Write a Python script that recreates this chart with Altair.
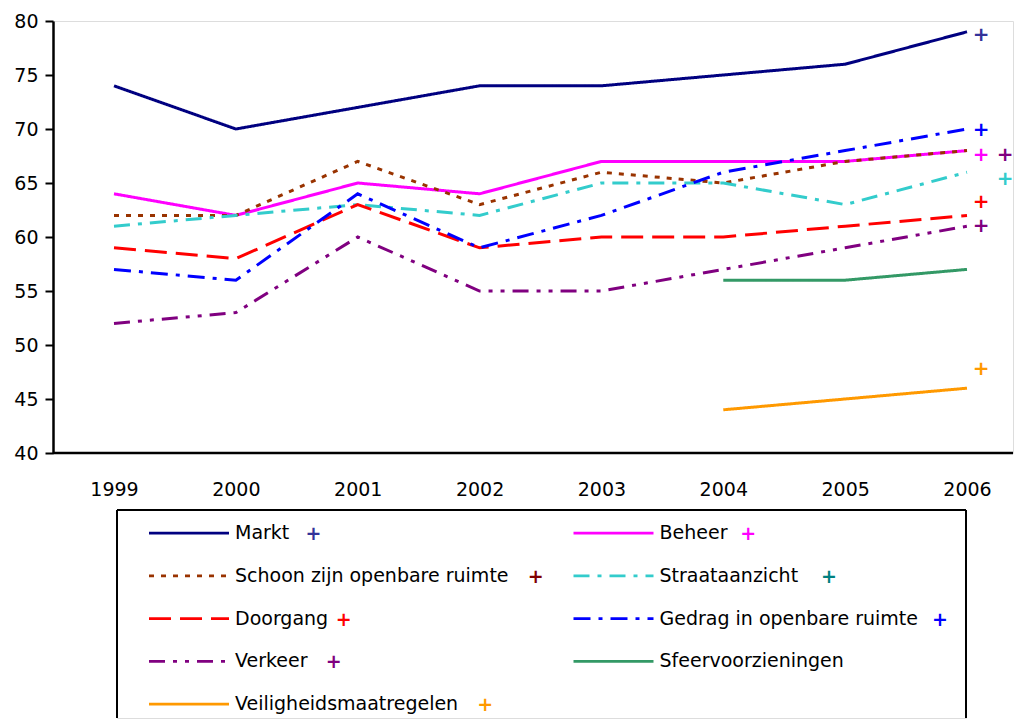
import altair as alt
import pandas as pd

years = ["1999", "2000", "2001", "2002", "2003", "2004", "2005", "2006"]

names = [
    "Markt",
    "Beheer",
    "Schoon zijn openbare ruimte",
    "Straataanzicht",
    "Doorgang",
    "Gedrag in openbare ruimte",
    "Verkeer",
    "Sfeervoorzieningen",
    "Veiligheidsmaatregelen",
]

markt = [74, 70, 72, 74, 74, 75, 76, 79]
beheer = [64, 62, 65, 64, 67, 67, 67, 68]
schoon = [62, 62, 67, 63, 66, 65, 67, 68]
straataanzicht = [61, 62, 63, 62, 65, 65, 63, 66]
doorgang = [59, 58, 63, 59, 60, 60, 61, 62]
gedrag = [57, 56, 64, 59, 62, 66, 68, 70]
verkeer = [52, 53, 60, 55, 55, 57, 59, 61]
sfeer = [None, None, None, None, None, 56, 56, 57]
veiligheid = [None, None, None, None, None, 44, 45, 46]

series_values = [markt, beheer, schoon, straataanzicht, doorgang, gedrag, verkeer, sfeer, veiligheid]

# "+" markers next to 2006 (value per series; None = no marker)
marker_values = [78.7, 67.6, 67.6, 65.4, 63.2, 69.9, 61.0, None, 47.8]
marker_colors = ["#333399", "#FF00FF", "#800080", "#33CCCC", "#FF0000", "#0000FF", "#800080", None, "#FF9900"]
legend_marker_colors = ["#333399", "#FF00FF", "#800000", "#008080", "#FF0000", "#0000FF", "#800080", None, "#FF9900"]
outer_markers = ["Schoon zijn openbare ruimte", "Straataanzicht"]

line_colors = ["#000080", "#FF00FF", "#993300", "#33CCCC", "#FF0000", "#0000FF", "#800080", "#339966", "#FF9900"]
line_dashes = [
    [1, 0],
    [1, 0],
    [5, 7],
    [16, 8, 4, 8],
    [22, 9],
    [17, 8, 4, 8],
    [16, 8, 4, 8, 4, 8],
    [1, 0],
    [1, 0],
]

FONT = "DejaVu Sans"

rows = []
for n, vals in zip(names, series_values):
    for y, v in zip(years, vals):
        rows.append({"name": n, "year": y, "value": v})
df = pd.DataFrame(rows)

mrows = []
for n, v, c in zip(names, marker_values, marker_colors):
    if v is not None:
        mrows.append({"name": n, "year": years[-1], "value": v, "mcolor": c})
mdf = pd.DataFrame(mrows)

color_scale = alt.Scale(domain=names, range=line_colors)
dash_scale = alt.Scale(domain=names, range=line_dashes)

x_enc = alt.X(
    "year:O",
    sort=years,
    scale=alt.Scale(type="point", domain=years, range=[61, 914], padding=0),
    axis=alt.Axis(title=None, labelAngle=0, domain=False, ticks=False,
                  labelPadding=27, labelFontSize=19, labelColor="black", labelFont=FONT),
)
y_enc = alt.Y(
    "value:Q",
    scale=alt.Scale(domain=[40, 80], nice=False, zero=False),
    axis=alt.Axis(title=None, values=list(range(40, 81, 5)), grid=False,
                  domainColor="black", domainWidth=2.5, tickColor="black", tickWidth=2,
                  tickSize=8, labelPadding=7, labelFontSize=19, labelColor="black", labelFont=FONT),
)

lines = alt.Chart(df).transform_filter("isValid(datum.value)").mark_line(strokeWidth=3).encode(
    x=x_enc,
    y=y_enc,
    color=alt.Color("name:N", scale=color_scale, legend=None),
    strokeDash=alt.StrokeDash("name:N", scale=dash_scale, legend=None),
    detail="name:N",
)

xrule = alt.Chart(pd.DataFrame({"v": [40]})).mark_rule(color="black", strokeWidth=2.5).encode(
    y=alt.Y("v:Q")
)

markers_inner = alt.Chart(mdf).transform_filter(
    alt.FieldOneOfPredicate(field="name", oneOf=outer_markers).__invert__()
).mark_text(text="+", fontSize=20, fontWeight="bold", dx=14, font=FONT).encode(
    x=alt.X("year:O", sort=years),
    y=alt.Y("value:Q"),
    color=alt.Color("mcolor:N", scale=None),
)
markers_outer = alt.Chart(mdf).transform_filter(
    alt.FieldOneOfPredicate(field="name", oneOf=outer_markers)
).mark_text(text="+", fontSize=20, fontWeight="bold", dx=38, font=FONT).encode(
    x=alt.X("year:O", sort=years),
    y=alt.Y("value:Q"),
    color=alt.Color("mcolor:N", scale=None),
)

main = alt.layer(lines, xrule, markers_inner, markers_outer).properties(width=960, height=432)

# ---- legend panel ----
LEG_W = 849
LEG_H = 208
lrows = []
for i, n in enumerate(names):
    lrows.append({"name": n, "col": i % 2, "row": i // 2,
                  "pcolor": legend_marker_colors[i] if legend_marker_colors[i] else ""})
ldf = pd.DataFrame(lrows)

lx = alt.X("col:Q", scale=alt.Scale(domain=[0, 2], range=[0, LEG_W]), axis=None)
ly = alt.Y("row:Q", scale=alt.Scale(domain=[0, 4], range=[23, 194]), axis=None)

leg_lines = alt.Chart(ldf).mark_rule(strokeWidth=2.75, xOffset=32, x2Offset=112).encode(
    x=lx, x2=alt.X2("col"), y=ly,
    color=alt.Color("name:N", scale=color_scale, legend=None),
    strokeDash=alt.StrokeDash("name:N", scale=dash_scale, legend=None),
)
leg_text = alt.Chart(ldf).mark_text(align="left", baseline="middle", dx=118, fontSize=19,
                                     color="black", font=FONT).encode(
    x=lx, y=ly, text="name:N"
)
leg_plus = alt.Chart(ldf).transform_filter("datum.pcolor != ''").transform_calculate(
    px="datum.col * %f + 118 + length(datum.name) * 10.1 + 28" % (LEG_W / 2)
).mark_text(text="+", align="center", baseline="middle", fontSize=19, fontWeight="bold",
            dy=1, font=FONT).encode(
    x=alt.X("px:Q", scale=None),
    y=ly,
    color=alt.Color("pcolor:N", scale=None),
)
one = pd.DataFrame({"a": [0]})
frame_top = alt.Chart(one).mark_rule(color="black", strokeWidth=2).encode(y=alt.value(0))
frame_left = alt.Chart(one).mark_rule(color="black", strokeWidth=2).encode(x=alt.value(0))
frame_right = alt.Chart(one).mark_rule(color="black", strokeWidth=2).encode(x=alt.value(LEG_W))

legend_panel = alt.layer(frame_top, frame_left, frame_right, leg_lines, leg_text, leg_plus).properties(
    width=LEG_W, height=LEG_H
)
spacer = alt.Chart(one).mark_point(opacity=0).properties(width=62, height=LEG_H)

chart = alt.vconcat(
    main,
    alt.hconcat(spacer, legend_panel, spacing=0),
    spacing=8,
).properties(
    padding={"left": 5, "top": 3, "right": 0, "bottom": 0}
).configure_view(stroke=None).configure(font=FONT)

chart.save("out.html", embed_options={"renderer": "svg", "actions": False})
